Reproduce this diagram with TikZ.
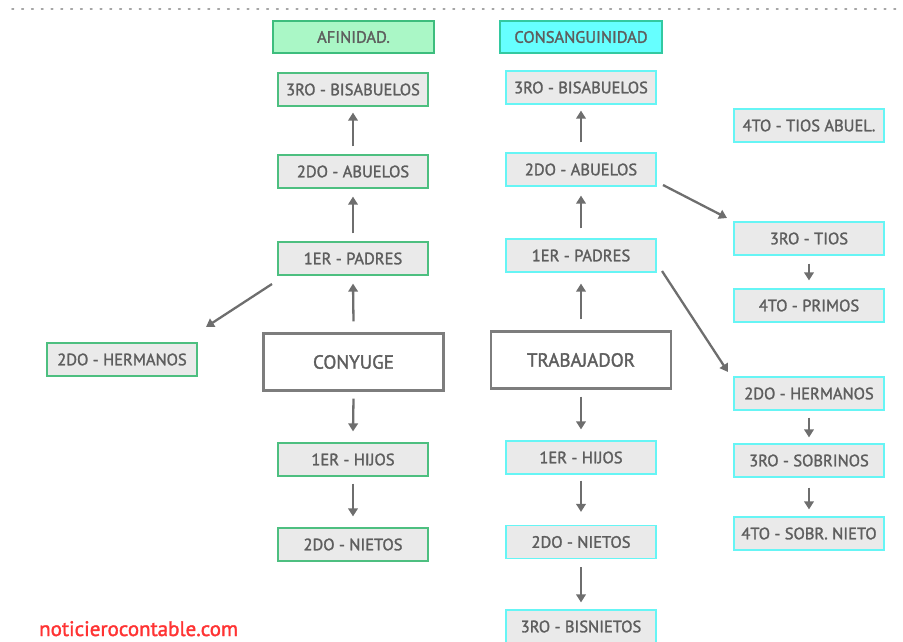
\documentclass[tikz,border=0pt]{standalone}
\usepackage{fontspec}
\setmainfont{PT Sans}
\newfontfamily\boldish{PT Sans}[FakeBold=1.6]
\usetikzlibrary{arrows.meta}
\definecolor{txt}{HTML}{5E5E5E}
\definecolor{boxfill}{HTML}{EAEAEA}
\definecolor{gborder}{HTML}{4DBF80}
\definecolor{cborder}{HTML}{66F5F5}
\definecolor{afill}{HTML}{AAF7C6}
\definecolor{aborder}{HTML}{3DBD7D}
\definecolor{cfill}{HTML}{66FFFF}
\definecolor{cbord}{HTML}{33C9A0}
\definecolor{arr}{HTML}{6E6E6E}
\definecolor{web}{HTML}{FF3333}
\tikzset{
  base/.style={rectangle, inner sep=0pt, text=txt, font=\boldish\fontsize{16.5}{18}\selectfont},
  gbox/.style={base, draw=gborder, line width=1.2pt, fill=boxfill, minimum width=150pt, minimum height=33pt},
  cbox/.style={base, draw=cborder, line width=1.2pt, fill=boxfill, minimum width=150pt, minimum height=33pt},
  mainbox/.style={base, draw=arr!90, line width=2.4pt, fill=white, minimum width=180pt, minimum height=57pt, font=\boldish\fontsize{19}{22}\selectfont},
  conn/.style={draw=arr, line width=2.3pt, -{Triangle[length=8pt,width=9.5pt]}},
}
\begin{document}
\begin{tikzpicture}[x=1pt,y=-1pt]
\useasboundingbox (0,0) rectangle (903,641);
\draw[gray!70, line width=1.6pt, dash pattern=on 1.6pt off 8.2pt, line cap=round] (12,9) -- (903,9);
% headers
\node[base, draw=aborder, fill=afill, line width=1.2pt, minimum width=161pt, minimum height=32pt] (afi) at (353.5,37) {AFINIDAD.};
\node[base, draw=cbord, fill=cfill, line width=1.2pt, minimum width=162pt, minimum height=32pt] (con) at (581,37) {CONSANGUINIDAD};
% left column
\node[gbox] (lbis) at (353,89.5) {3RO - BISABUELOS};
\node[gbox] (labu) at (353,171.5) {2DO - ABUELOS};
\node[gbox] (lpad) at (353,258.5) {1ER - PADRES};
\node[gbox] (lher) at (122,359.5) {2DO - HERMANOS};
\node[mainbox] (cony) at (353.5,362) {CONYUGE};
\node[gbox] (lhij) at (353,459.5) {1ER - HIJOS};
\node[gbox] (lnie) at (353,544.5) {2DO - NIETOS};
% middle column
\node[cbox] (mbis) at (581,87.5) {3RO - BISABUELOS};
\node[cbox] (mabu) at (581,169.5) {2DO - ABUELOS};
\node[cbox] (mpad) at (581,255.5) {1ER - PADRES};
\node[mainbox] (trab) at (581,360) {TRABAJADOR};
\node[cbox] (mhij) at (581,457.5) {1ER - HIJOS};
\node[cbox] (mnie) at (581,542) {2DO - NIETOS};
\node[cbox] (mbisn) at (581,626.5) {3RO - BISNIETOS};
% right column
\node[cbox] (rtab) at (809,125.5) {4TO - TIOS ABUEL.};
\node[cbox] (rtio) at (809,238.5) {3RO - TIOS};
\node[cbox] (rpri) at (809,305.5) {4TO - PRIMOS};
\node[cbox] (rher) at (809,393.5) {2DO - HERMANOS};
\node[cbox] (rsob) at (809,460.5) {3RO - SOBRINOS};
\node[cbox] (rsn) at (809,533.5) {4TO - SOBR. NIETO};
% arrows left
\draw[conn] ([yshift=8pt]labu.north) -- ([yshift=-6pt]lbis.south);
\draw[conn] ([yshift=8pt]lpad.north) -- ([yshift=-8pt]labu.south);
\draw[conn] ([yshift=11pt]cony.north) -- ([yshift=-8pt]lpad.south);
\draw[conn] ([yshift=-7pt]cony.south) -- ([yshift=11pt]lhij.north);
\draw[conn] ([yshift=-7pt]lhij.south) -- ([yshift=11pt]lnie.north);
\coordinate (lpa) at (272,284);
\coordinate (lhe) at (206,327);
\draw[conn] (lpa) -- (lhe);
% arrows middle
\draw[conn] ([yshift=10pt]mabu.north) -- ([yshift=-6pt]mbis.south);
\draw[conn] ([yshift=10pt]mpad.north) -- ([yshift=-9pt]mabu.south);
\draw[conn] ([yshift=11pt]trab.north) -- ([yshift=-11pt]mpad.south);
\draw[conn] ([yshift=-7pt]trab.south) -- ([yshift=11pt]mhij.north);
\draw[conn] ([yshift=-6pt]mhij.south) -- ([yshift=13pt]mnie.north);
\draw[conn] ([yshift=-8pt]mnie.south) -- ([yshift=7pt]mbisn.north);
\coordinate (mab) at (663,185);
\coordinate (rti) at (727,218);
\draw[conn] (mab) -- (rti);
\coordinate (mpa) at (662,271);
\coordinate (rhe) at (728,372);
\draw[conn] (mpa) -- (rhe);
% arrows right
\draw[conn] ([yshift=-8pt]rtio.south) -- ([yshift=8pt]rpri.north);
\draw[conn] ([yshift=-7pt]rher.south) -- ([yshift=6pt]rsob.north);
\draw[conn] ([yshift=-10pt]rsob.south) -- ([yshift=7pt]rsn.north);
% watermark
\node[anchor=base west, inner sep=0pt, text=web, font=\boldish\fontsize{21}{24}\selectfont] (wm) at (39,636) {noticierocontable.com};
\end{tikzpicture}
\end{document}
